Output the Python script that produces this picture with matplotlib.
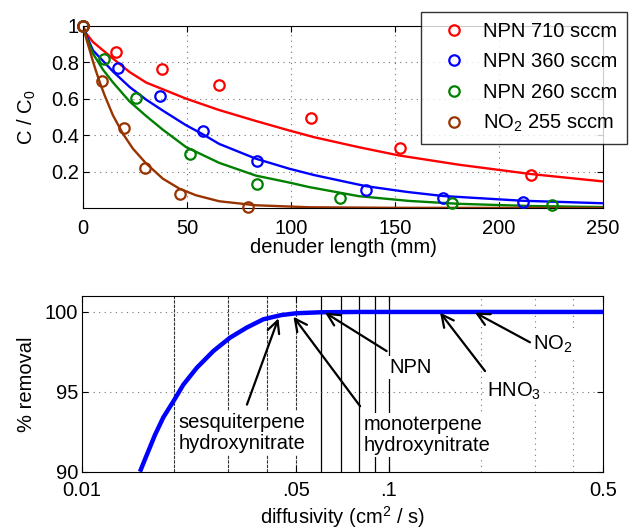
import matplotlib
matplotlib.use("Agg")
import matplotlib.pyplot as plt

plt.rcParams['font.family'] = ['Liberation Sans', 'DejaVu Sans']
plt.rcParams['mathtext.fontset'] = 'custom'
plt.rcParams['mathtext.rm'] = 'Liberation Sans'
plt.rcParams['mathtext.it'] = 'Liberation Sans'
plt.rcParams['font.size'] = 14.5

# measured points, denuder length (mm) vs C/C0
x_710 = [0, 15.7, 37.9, 65.5, 109.5, 152.3, 215.3]
y_710 = [1.0, 0.859, 0.762, 0.676, 0.493, 0.328, 0.181]
x_360 = [0, 16.6, 37.1, 57.7, 83.6, 136.3, 173.1, 211.4]
y_360 = [1.0, 0.767, 0.615, 0.423, 0.258, 0.099, 0.053, 0.031]
x_260 = [0, 10.1, 25.7, 51.5, 83.6, 123.4, 177.2, 225.3]
y_260 = [1.0, 0.817, 0.606, 0.295, 0.130, 0.053, 0.026, 0.016]
x_no2 = [0, 9.1, 19.8, 29.6, 46.4, 79.4]
y_no2 = [1.0, 0.698, 0.441, 0.221, 0.075, 0.004]

# fitted curves
fx_710 = [0, 1.6, 4.8, 14.4, 22.4, 30.4, 49.5, 65.5, 83.1, 99.1, 111.1, 132.6, 151.8, 180.6, 215, 250]
fy_710 = [1.0, 0.958, 0.912, 0.821, 0.747, 0.689, 0.601, 0.538, 0.478, 0.426, 0.389, 0.334, 0.289, 0.238, 0.187, 0.146]
fx_360 = [0, 1.6, 4.8, 14.4, 22.4, 30.4, 38.4, 49.5, 57.6, 65.5, 83.1, 99.1, 111.1, 136, 156, 173, 211, 250]
fy_360 = [1.0, 0.949, 0.866, 0.75, 0.665, 0.595, 0.535, 0.455, 0.405, 0.352, 0.271, 0.216, 0.181, 0.12, 0.088, 0.066, 0.04, 0.026]
fx_260 = [0, 1.6, 4.8, 9.6, 14.4, 22.4, 30.4, 38.4, 49.5, 65.5, 83.1, 99.1, 108.7, 132.6, 156.6, 180.6, 215, 250]
fy_260 = [1.0, 0.94, 0.848, 0.76, 0.69, 0.585, 0.505, 0.43, 0.335, 0.248, 0.178, 0.14, 0.115, 0.065, 0.039, 0.023, 0.011, 0.005]
fx_no2 = [0, 0.8, 1.6, 3.2, 4.8, 6.4, 8.4, 10.4, 14.4, 19.2, 24.0, 30.4, 38.4, 46.4, 54.3, 65.5, 83.1, 108.7, 150, 250]
fy_no2 = [1.0, 0.965, 0.93, 0.868, 0.805, 0.747, 0.68, 0.619, 0.509, 0.408, 0.326, 0.244, 0.161, 0.106, 0.07, 0.037, 0.015, 0.004, 0.001, 0.0]

# % removal vs diffusivity
diff = [0.01545, 0.01626, 0.0173, 0.01841, 0.01985, 0.0214, 0.02366, 0.0268, 0.03038, 0.03444, 0.0390, 0.0445, 0.0501, 0.06, 0.08, 0.1, 0.2, 0.5]
removal = [90.0, 91.05, 92.31, 93.40, 94.40, 95.45, 96.50, 97.55, 98.39, 99.02, 99.54, 99.80, 99.92, 99.98, 100.0, 100.0, 100.0, 100.0]

labels = ['NPN 710 sccm', 'NPN 360 sccm', 'NPN 260 sccm', 'NO$_2$ 255 sccm']
colors = ['#ff0000', '#0000ff', '#008000', '#993300']

fig = plt.figure(figsize=(6.36, 5.29), dpi=100)
ax1 = fig.add_axes([0.1305, 0.6068, 0.8176, 0.3441])
ax2 = fig.add_axes([0.1290, 0.1083, 0.8191, 0.3322])

pts = [(x_710, y_710), (x_360, y_360), (x_260, y_260), (x_no2, y_no2)]
fits = [(fx_710, fy_710), (fx_360, fy_360), (fx_260, fy_260), (fx_no2, fy_no2)]
for (px, py), (fx, fy), c, lab in zip(pts, fits, colors, labels):
    ax1.plot(px, py, 'o', mfc='none', mec=c, ms=7.5, mew=1.6, label=lab, clip_on=False, zorder=3)
    ax1.plot(fx, fy, '-', color=c, lw=1.7, zorder=2, solid_joinstyle='round')

ax1.set_xlim(0, 250)
ax1.set_ylim(0, 1)
ax1.set_xticks([0, 50, 100, 150, 200, 250])
ax1.set_yticks([0.2, 0.4, 0.6, 0.8, 1.0])
ax1.set_yticklabels(['0.2', '0.4', '0.6', '0.8', '1'])
ax1.grid(True, color='0.45', linestyle=(0, (1, 4)), lw=0.8)
ax1.tick_params(direction='in', top=True, right=True, length=4)
ax1.tick_params(axis='x', pad=8)
ax1.tick_params(axis='y', pad=3)
ax1.set_xlabel('denuder length (mm)', labelpad=0)
ax1.set_ylabel('C / C$_0$', labelpad=9)
leg = ax1.legend(loc='upper left', bbox_to_anchor=(421 / 636, 1 - 12 / 529),
                 bbox_transform=fig.transFigure, frameon=True, fancybox=False,
                 handletextpad=0.28, labelspacing=0.57, borderpad=0.48,
                 handlelength=2.3, borderaxespad=0)
leg.get_frame().set_edgecolor('black')
leg.get_frame().set_linewidth(1.0)
leg.set_zorder(10)

# bottom panel
ax2.set_xscale('log')
ax2.plot(diff, removal, color='#0000ff', lw=3.2, zorder=3, solid_capstyle='butt')
ax2.set_xlim(0.01, 0.5)
ax2.set_ylim(90, 101)
ax2.set_yticks([90, 95, 100])
ax2.set_xticks([0.01, 0.05, 0.1, 0.5])
ax2.set_xticklabels(['0.01', '.05', '.1', '0.5'])
ax2.minorticks_off()
for g in [0.02, 0.03, 0.04, 0.05]:
    ax2.axvline(g, color='0.2', linestyle=(0, (3, 1)), lw=0.8, zorder=1)
for g in [0.06, 0.07, 0.08, 0.09, 0.1]:
    ax2.axvline(g, color='black', lw=0.9, zorder=1)
for g in [0.2, 0.3, 0.4]:
    ax2.axvline(g, color='0.45', linestyle=(0, (1, 4)), lw=0.8, zorder=1)
for g in [95, 100]:
    ax2.axhline(g, color='0.45', linestyle=(0, (1, 4)), lw=0.8, zorder=1)
ax2.tick_params(direction='in', top=True, right=True, length=4)
ax2.tick_params(axis='x', pad=6.5)
ax2.tick_params(axis='y', pad=3)
ax2.set_xlabel('diffusivity (cm$^2$ / s)', labelpad=3)
ax2.set_ylabel('% removal', labelpad=6)

box = dict(facecolor='white', edgecolor='none', pad=1.5)
arrow = dict(arrowstyle='->,head_length=0.6,head_width=0.3', color='black', lw=1.6, shrinkA=0, shrinkB=0)
notes = [
    ('sesquiterpene\nhydroxynitrate', 0.0437, 99.6, 0.0345, 94.2, 0.0206, 92.43),
    ('monoterpene\nhydroxynitrate', 0.0489, 99.7, 0.0807, 94.1, 0.0827, 92.3),
    ('NPN', 0.0620, 99.96, 0.0985, 97.55, 0.1005, 96.5),
    ('HNO$_3$', 0.1471, 99.96, 0.2062, 96.3, 0.2098, 95.0),
    ('NO$_2$', 0.1912, 99.96, 0.289, 98.1, 0.2956, 97.95),
]
for txt, hx, hy, tx, ty, lx, ly in notes:
    ax2.text(lx, ly, txt, ha='left', va='center', bbox=box, zorder=4, linespacing=1.12)
    ax2.annotate('', xy=(hx, hy), xytext=(tx, ty), arrowprops=arrow, zorder=5)

fig.savefig('out.png', dpi=100)
